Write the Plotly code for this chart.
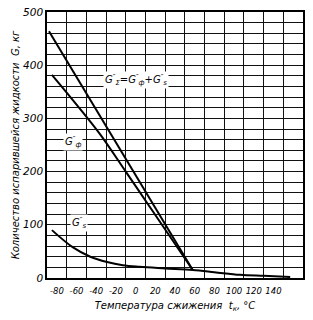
import plotly.graph_objects as go

# Data
t_sum = [-88, 58]
g_sum = [464, 15]

t_f = [-85, -60, -36, -10, 17.6, 58]
g_f = [382, 326, 270, 200, 125, 15]

t_s = [-85, -64, -46, -29, -13, 4, 30, 58, 80, 106, 130, 157]
g_s = [90, 58, 40, 30, 24, 21, 18, 15, 11, 6, 4, 2]

x_ticks = [-80, -60, -40, -20, 0, 20, 40, 60, 80, 100, 120, 140]
y_ticks = [0, 100, 200, 300, 400, 500]
x_grid = list(range(-90, 171, 20))
y_grid = list(range(0, 501, 20))

FONT = "DejaVu Sans"
line = dict(color="black", width=2)

fig = go.Figure()
fig.add_trace(go.Scatter(x=t_sum, y=g_sum, mode="lines", line=line, xaxis="x2", yaxis="y2"))
fig.add_trace(go.Scatter(x=t_f, y=g_f, mode="lines", line=line, line_shape="spline"))
fig.add_trace(go.Scatter(x=t_s, y=g_s, mode="lines", line=line, line_shape="spline"))

ann_font = dict(family=FONT, size=10, color="black", style="italic")
fig.add_annotation(x=0, y=372, text="G<sup>″</sup><sub>Σ</sub>=G<sup>″</sup><sub>ф</sub>+G<sup>″</sup><sub>s</sub>",
                   showarrow=False, font=ann_font, bgcolor="white")
fig.add_annotation(x=-64, y=255, text="G<sup>″</sup><sub>ф</sub>", showarrow=False, font=ann_font, bgcolor="white")
fig.add_annotation(x=-58, y=104, text="G<sup>″</sup><sub>s</sub>", showarrow=False, font=ann_font, bgcolor="white")

fig.update_layout(
    width=313, height=320,
    margin=dict(l=47, r=10, t=12, b=42, autoexpand=False),
    paper_bgcolor="white", plot_bgcolor="white",
    showlegend=False,
    font=dict(family=FONT, size=10, color="black"),
    xaxis=dict(
        range=[-90, 170], tickmode="array", tickvals=x_ticks,
        ticktext=[str(v) for v in x_ticks], tickangle=0, automargin=False,
        showgrid=False, zeroline=False, ticks="", ticklabelstandoff=4,
        showline=True, linecolor="black", linewidth=1.5, mirror=True,
        tickfont=dict(family=FONT, size=8.5, style="italic"),
        title=dict(text="Температура сжижения  t<sub>к</sub>, °C", standoff=7,
                   font=dict(family=FONT, size=10, style="italic")),
    ),
    xaxis2=dict(
        range=[-90, 170], overlaying="x", side="bottom", tickmode="array",
        tickvals=x_grid, showticklabels=False, ticks="",
        showgrid=True, gridcolor="#111", gridwidth=1, zeroline=False,
    ),
    yaxis=dict(
        range=[0, 500], tickmode="array", tickvals=y_ticks,
        ticktext=[str(v) for v in y_ticks], automargin=False,
        showgrid=False, zeroline=False, ticks="",
        showline=True, linecolor="black", linewidth=1.5, mirror=True,
        tickfont=dict(family=FONT, size=10.5, style="italic"),
        title=dict(text="Количество испарившейся жидкости  G, кг", standoff=2,
                   font=dict(family=FONT, size=10, style="italic")),
    ),
    yaxis2=dict(
        range=[0, 500], overlaying="y", side="left", tickmode="array",
        tickvals=y_grid, showticklabels=False, ticks="",
        showgrid=True, gridcolor="#111", gridwidth=1, zeroline=False,
    ),
)

fig.write_html("out.html")
